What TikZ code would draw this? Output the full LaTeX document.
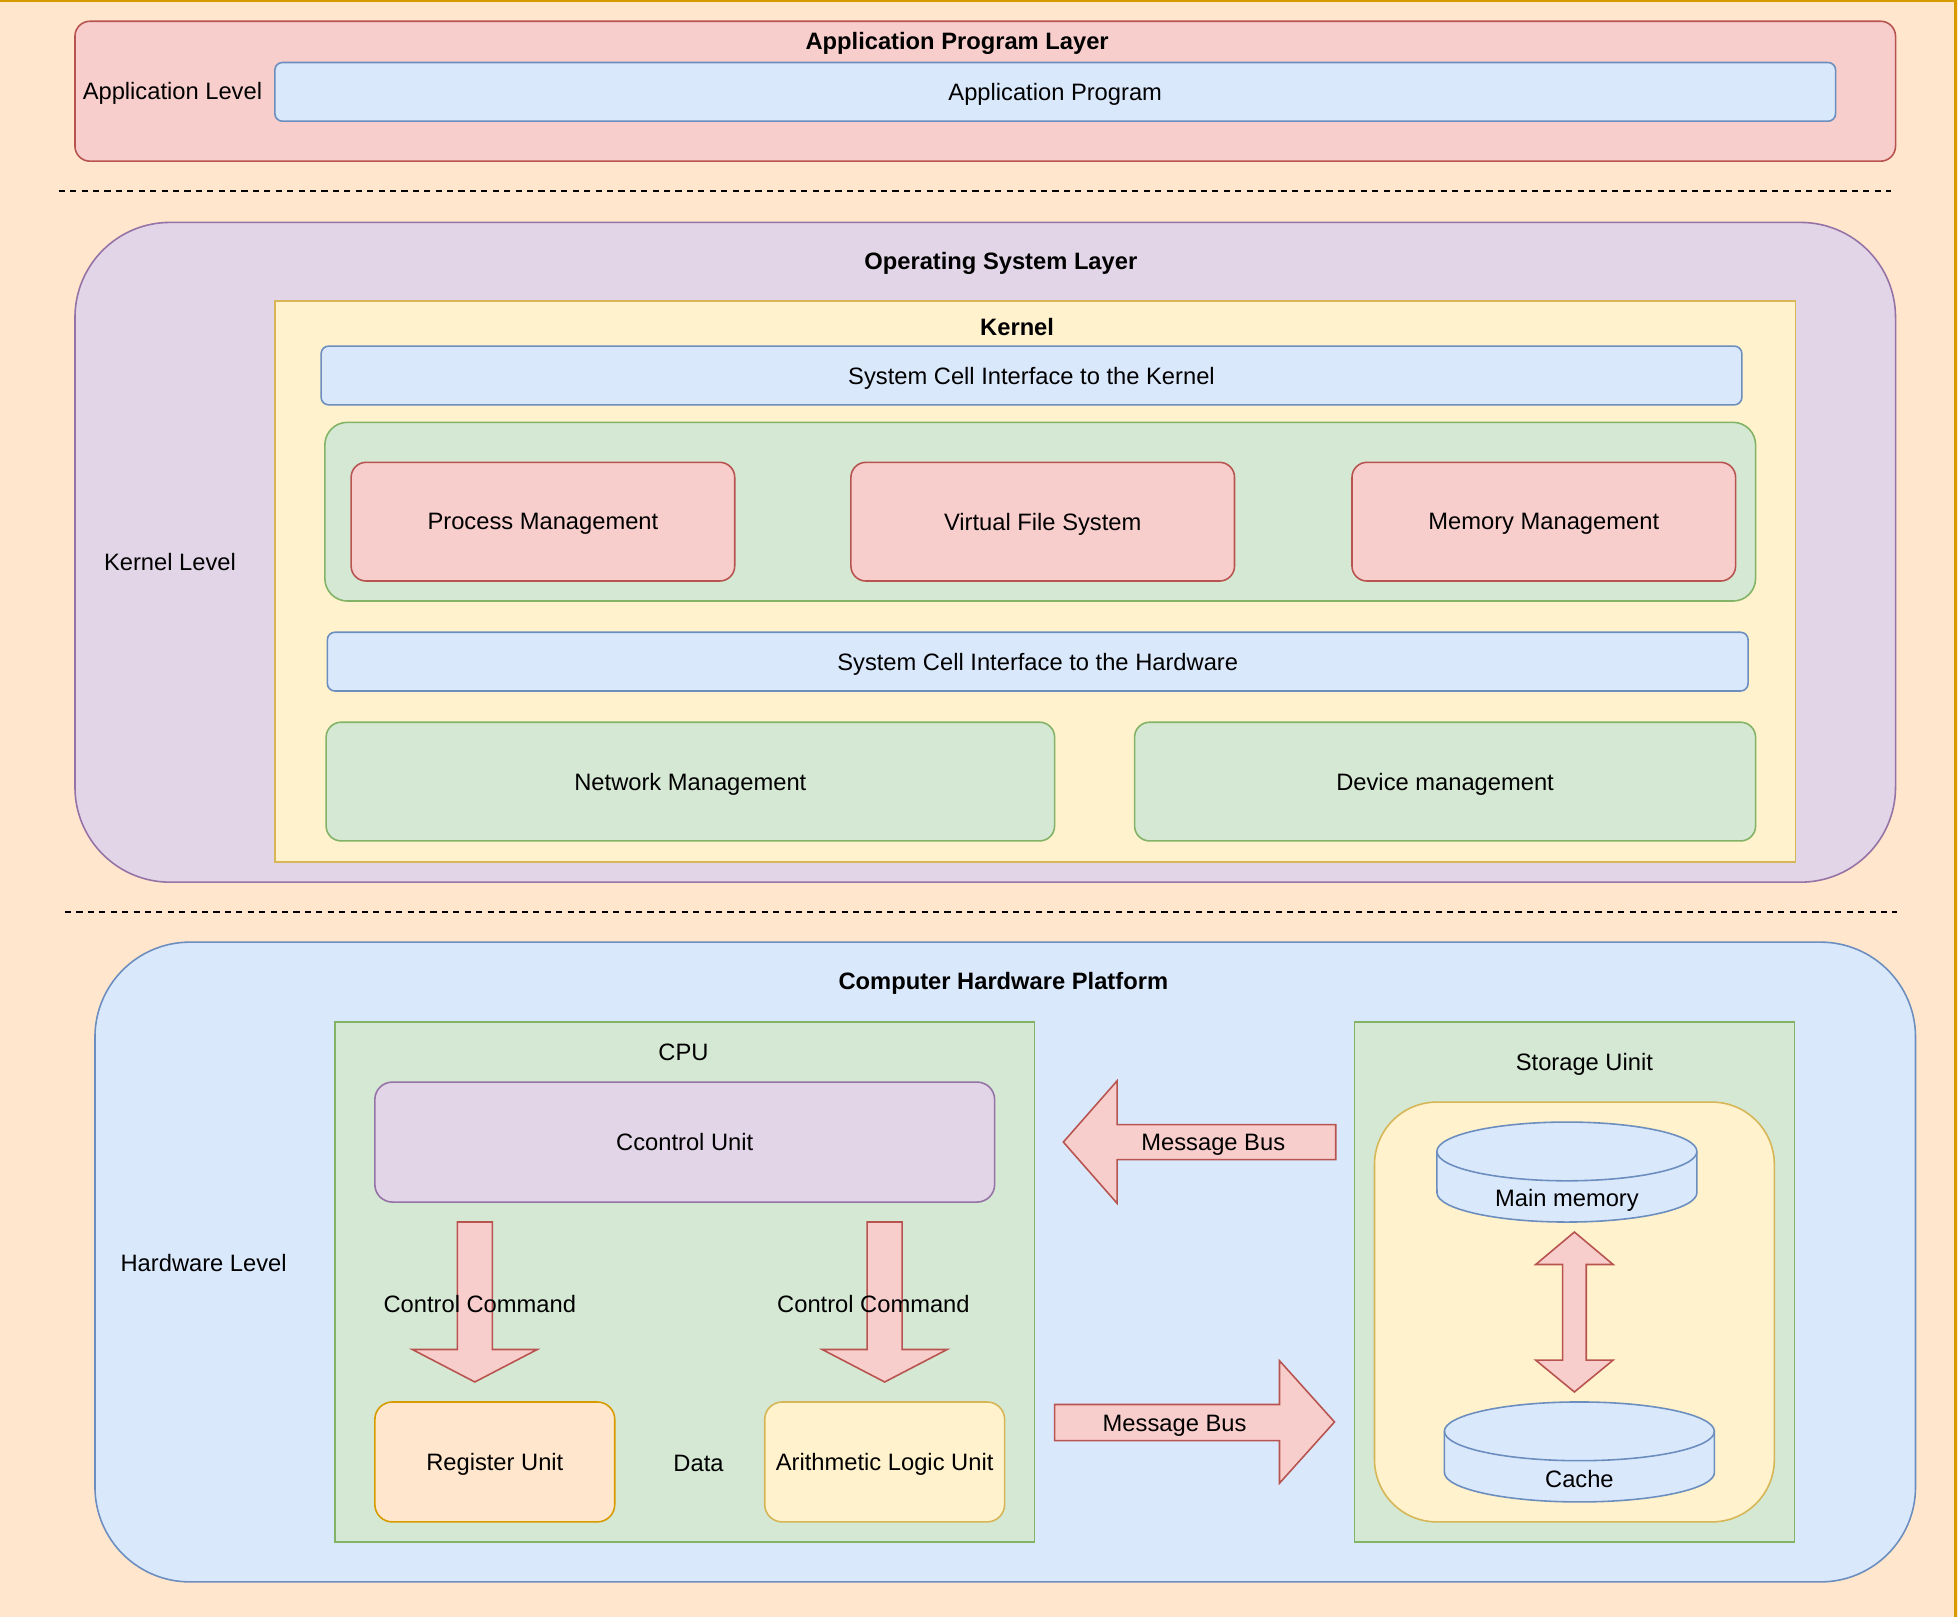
\documentclass[tikz,border=0pt]{standalone}
\usepackage{fontspec}
\setmainfont{Liberation Sans}
\usetikzlibrary{positioning,fit}
\definecolor{bgfill}{HTML}{FFE6CC}
\definecolor{bgline}{HTML}{D79B00}
\definecolor{redfill}{HTML}{F8CECC}
\definecolor{redline}{HTML}{B85450}
\definecolor{bluefill}{HTML}{DAE8FC}
\definecolor{blueline}{HTML}{6C8EBF}
\definecolor{greenfill}{HTML}{D5E8D4}
\definecolor{greenline}{HTML}{82B366}
\definecolor{yellowfill}{HTML}{FFF2CC}
\definecolor{yellowline}{HTML}{D6B656}
\definecolor{purplefill}{HTML}{E1D5E7}
\definecolor{purpleline}{HTML}{9673A6}

\begin{document}
\begin{tikzpicture}[x=0.025cm,y=-0.025cm,
    font=\fontsize{13.5}{16}\selectfont,
    box/.style={draw, line width=0.9pt, inner sep=0pt, outer sep=0pt},
    redbox/.style={box, fill=redfill, draw=redline},
    bluebox/.style={box, fill=bluefill, draw=blueline},
    greenbox/.style={box, fill=greenfill, draw=greenline},
    yellowbox/.style={box, fill=yellowfill, draw=yellowline},
    purplebox/.style={box, fill=purplefill, draw=purpleline},
    orangebox/.style={box, fill=bgfill, draw=bgline},
    boxtext/.style={text depth=0pt},
    title/.style={font=\fontsize{13.5}{16}\selectfont\bfseries},
    bigarrow/.style={fill=redfill, draw=redline, line width=0.9pt, line join=miter},
    sep/.style={dash pattern=on 3.5pt off 3pt, line width=0.9pt}]
    \useasboundingbox (0,0) rectangle (1567,1294);
    % Background
    \fill[bgfill] (0,0) rectangle (1567,1294);
    \draw[bgline, line width=1.2pt] (-5,1) -- (1565,1) -- (1565,1300);

    % Application layer
    \node[redbox, rounded corners=0.3cm, fit={(60,17) (1517,129)}] (applayer) {};
    \node[title] (apptitle) at (766,35) {Application Program Layer};
    \node (applevel) at (138,75) {Application Level};
    \node[bluebox, rounded corners=0.15cm, fit={(220,50) (1469,97)}] (appprog) {};
    \node[boxtext] at (appprog) {Application Program};

    \draw[sep] (47,153) -- (1513,153);

    % Operating system layer
    \node[purplebox, rounded corners=1.9cm, fit={(60,178) (1517,706)}] (oslayer) {};
    \node[title] (ostitle) at (801,211) {Operating System Layer};
    \node (kernellevel) at (136,450) {Kernel Level};
    \node[yellowbox, fit={(220,241) (1437,690)}] (kernel) {};
    \node[title] (kerneltitle) at (814,262) {Kernel};
    \node[bluebox, rounded corners=0.15cm, fit={(257,277) (1394,324)}] (scikernel) {};
    \node[boxtext] at (scikernel) {System Cell Interface to the Kernel};
    \node[greenbox, rounded corners=0.45cm, fit={(260,338) (1405,481)}] (coregroup) {};
    \node[redbox, rounded corners=0.3cm, fit={(281,370) (588,465)}] (procmgmt) {};
    \node[boxtext] at (procmgmt) {Process Management};
    \node[redbox, rounded corners=0.3cm, fit={(681,370) (988,465)}] (vfs) {};
    \node[boxtext] at (vfs) {Virtual File System};
    \node[redbox, rounded corners=0.3cm, fit={(1082,370) (1389,465)}] (memmgmt) {};
    \node[boxtext] at (memmgmt) {Memory Management};
    \node[bluebox, rounded corners=0.15cm, fit={(262,506) (1399,553)}] (scihw) {};
    \node[boxtext] at (scihw) {System Cell Interface to the Hardware};
    \node[greenbox, rounded corners=0.3cm, fit={(261,578) (844,673)}] (netmgmt) {};
    \node[boxtext] at (netmgmt) {Network Management};
    \node[greenbox, rounded corners=0.3cm, fit={(908,578) (1405,673)}] (devmgmt) {};
    \node[boxtext] at (devmgmt) {Device management};

    \draw[sep] (52,730) -- (1518,730);

    % Hardware platform
    \node[bluebox, rounded corners=1.9cm, fit={(76,754) (1533,1266)}] (hwlayer) {};
    \node[title] (hwtitle) at (803,787) {Computer Hardware Platform};
    \node (hwlevel) at (163,1011) {Hardware Level};

    % CPU
    \node[greenbox, fit={(268,818) (828,1234)}] (cpu) {};
    \node (cputitle) at (547,842) {CPU};
    \node[purplebox, rounded corners=0.35cm, fit={(300,866) (796,962)}] (ctrlunit) {};
    \node[boxtext] at (ctrlunit) {Ccontrol Unit};
    \node[orangebox, rounded corners=0.35cm, fit={(300,1122) (492,1218)}] (regunit) {};
    \node[boxtext] at (regunit) {Register Unit};
    \node[yellowbox, rounded corners=0.35cm, fit={(612,1122) (804,1218)}] (alu) {};
    \node[boxtext] at (alu) {Arithmetic Logic Unit};
    \node[boxtext] (data) at (559,1171) {Data};
    \draw[bigarrow] (366,978) -- (394,978) -- (394,1080) -- (430,1080) -- (380,1106) -- (330,1080) -- (366,1080) -- cycle;
    \draw[bigarrow] (694,978) -- (722,978) -- (722,1080) -- (758,1080) -- (708,1106) -- (658,1080) -- (694,1080) -- cycle;
    \node (cmdleft) at (384,1044) {Control Command};
    \node (cmdright) at (699,1044) {Control Command};

    % Storage unit
    \node[greenbox, fit={(1084,818) (1436,1234)}] (storage) {};
    \node (storagetitle) at (1268,852) {Storage Uinit};
    \node[yellowbox, rounded corners=1.25cm, fit={(1100,882) (1420,1218)}] (memgroup) {};
    \filldraw[fill=bluefill, draw=blueline, line width=0.9pt] (1150,954.5)
        arc[start angle=180, end angle=360, x radius=2.6cm, y radius=0.5875cm] -- (1358,921.5)
        arc[start angle=0, end angle=180, x radius=2.6cm, y radius=0.5875cm] -- cycle;
    \draw[blueline, line width=0.9pt] (1150,921.5) arc[start angle=180, end angle=360, x radius=2.6cm, y radius=0.5875cm];
    \node (mainmem) at (1254,961) {Main memory};
    \filldraw[fill=bluefill, draw=blueline, line width=0.9pt] (1156,1178.5)
        arc[start angle=180, end angle=360, x radius=2.7cm, y radius=0.5875cm] -- (1372,1145.5)
        arc[start angle=0, end angle=180, x radius=2.7cm, y radius=0.5875cm] -- cycle;
    \draw[blueline, line width=0.9pt] (1156,1145.5) arc[start angle=180, end angle=360, x radius=2.7cm, y radius=0.5875cm];
    \node (cache) at (1264,1184) {Cache};
    \draw[bigarrow] (1260,986) -- (1291,1012) -- (1269.5,1012) -- (1269.5,1088.5) -- (1291,1088.5) -- (1260,1114)
        -- (1229,1088.5) -- (1250.5,1088.5) -- (1250.5,1012) -- (1229,1012) -- cycle;

    % Message bus
    \draw[bigarrow] (851,914) -- (894,865) -- (894,900) -- (1069,900) -- (1069,928) -- (894,928) -- (894,963) -- cycle;
    \node (busin) at (971,916) {Message Bus};
    \draw[bigarrow] (844,1124) -- (1024,1124) -- (1024,1089) -- (1068,1138) -- (1024,1187) -- (1024,1153) -- (844,1153) -- cycle;
    \node (busout) at (940,1141) {Message Bus};
\end{tikzpicture}
\end{document}
